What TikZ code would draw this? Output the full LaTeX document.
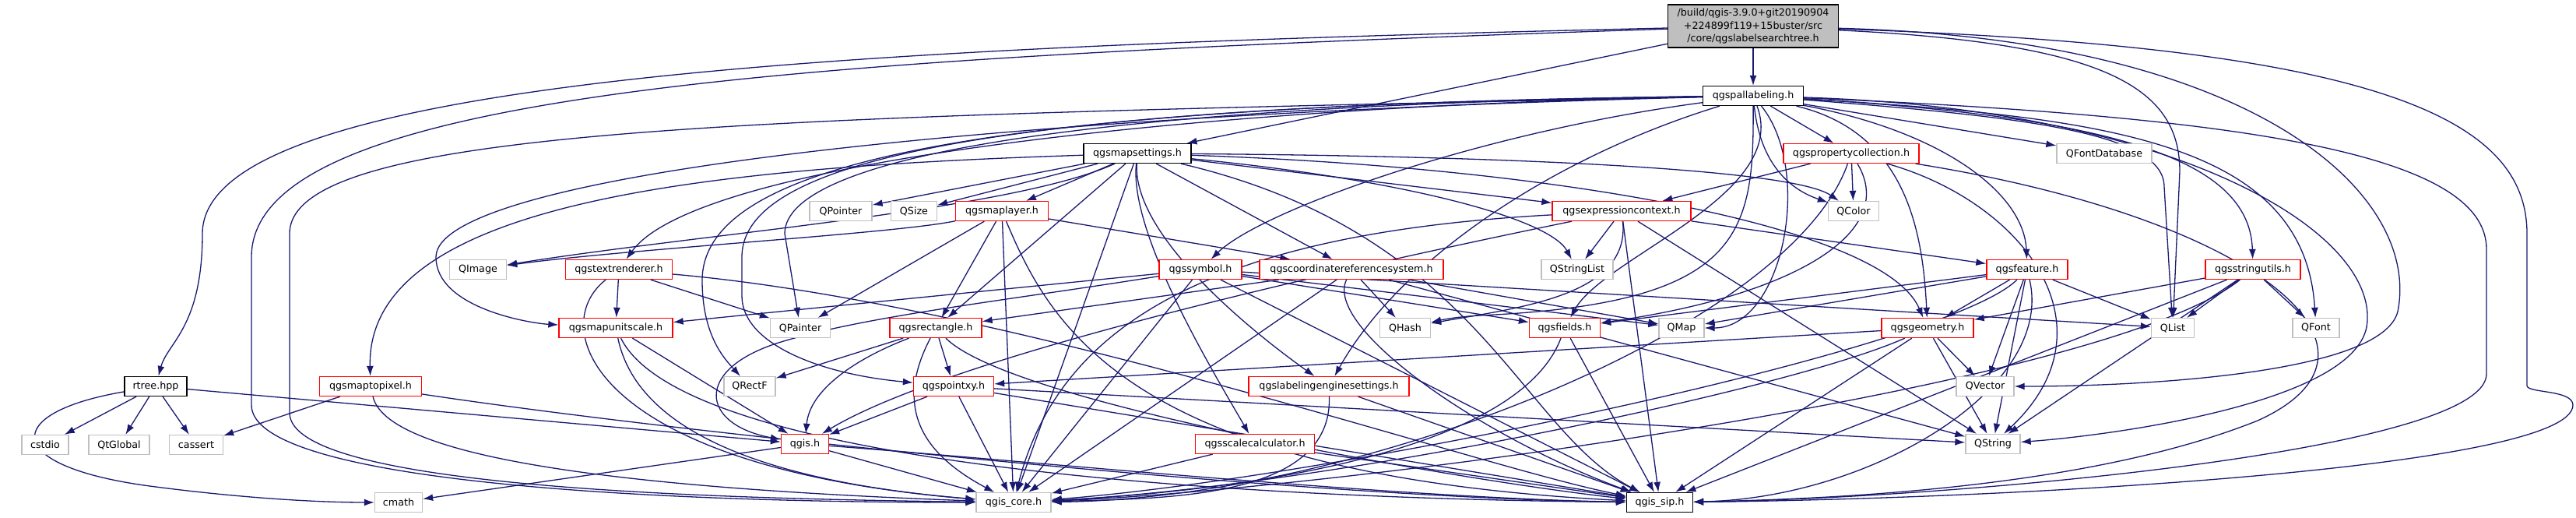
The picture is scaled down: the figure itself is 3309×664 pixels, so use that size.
\documentclass[tikz,border=0pt]{standalone}
\usepackage{fontspec}
\setmainfont{DejaVu Sans}
\usetikzlibrary{arrows.meta,backgrounds}
\definecolor{edgec}{HTML}{191970}
\definecolor{grayc}{HTML}{BFBFBF}
\definecolor{redc}{HTML}{FF0000}
\newcommand{\nf}{\fontsize{12.7}{16.5}\selectfont}
\tikzset{
  nd/.style={rectangle, inner sep=0pt, minimum height=25pt, font=\nf, line width=1.3pt, fill=white},
  bk/.style={nd, draw=black},
  rd/.style={nd, draw=redc},
  gy/.style={nd, draw=grayc},
  dep/.style={draw=edgec, line width=1.3pt, -{Latex[length=13pt,width=9pt]}}
}
\begin{document}
\begin{tikzpicture}[x=1pt,y=-1pt]
\useasboundingbox (0,0) rectangle (3309,664);
% row 0/1
\node[bk, fill=grayc, minimum width=219pt, minimum height=55pt, align=center] (top) at (2252,33.5) {/build/qgis-3.9.0+git20190904\\+224899f119+15buster/src\\/core/qgslabelsearchtree.h};
\node[bk, minimum width=129pt] (pal) at (2252,123) {qgspallabeling.h};
% row 2
\node[bk, minimum width=138pt] (ms) at (1461,197) {qgsmapsettings.h};
\node[rd, minimum width=174pt] (pc) at (2378,197) {qgspropertycollection.h};
\node[gy, minimum width=122pt] (qfd) at (2703,197) {QFontDatabase};
% row 3
\node[gy, minimum width=80pt] (qptr) at (1080,271) {QPointer};
\node[gy, minimum width=59pt] (qsize) at (1174,271) {QSize};
\node[rd, minimum width=119pt] (ml) at (1287,271) {qgsmaplayer.h};
\node[rd, minimum width=178pt] (ec) at (2083,271) {qgsexpressioncontext.h};
\node[gy, minimum width=65pt] (qcolor) at (2381,271) {QColor};
% row 4
\node[gy, minimum width=73pt] (qimage) at (614,346) {QImage};
\node[rd, minimum width=137pt] (tr) at (795,346) {qgstextrenderer.h};
\node[rd, minimum width=106pt] (sym) at (1542,346) {qgssymbol.h};
\node[rd, minimum width=236pt] (crs) at (1736,346) {qgscoordinatereferencesystem.h};
\node[gy, minimum width=92pt] (qsl) at (2026,346) {QStringList};
\node[rd, minimum width=104pt] (fe) at (2604,346) {qgsfeature.h};
\node[rd, minimum width=122pt] (su) at (2894,346) {qgsstringutils.h};
% row 5
\node[rd, minimum width=146pt] (mus) at (791,421) {qgsmapunitscale.h};
\node[gy, minimum width=77pt] (qpainter) at (1028,421) {QPainter};
\node[rd, minimum width=118pt] (rect) at (1202,421) {qgsrectangle.h};
\node[gy, minimum width=65pt] (qhash) at (1805,421) {QHash};
\node[rd, minimum width=91pt] (fld) at (2010,421) {qgsfields.h};
\node[gy, minimum width=58pt] (qmap) at (2160,421) {QMap};
\node[rd, minimum width=118pt] (geo) at (2476,421) {qgsgeometry.h};
\node[gy, minimum width=55pt] (qlist) at (2791,421) {QList};
\node[gy, minimum width=60pt] (qfont) at (2975,421) {QFont};
% row 6
\node[bk, minimum width=80pt] (rtree) at (200,496) {rtree.hpp};
\node[rd, minimum width=131pt] (mtp) at (476,496) {qgsmaptopixel.h};
\node[gy, minimum width=66pt] (qrectf) at (963,496) {QRectF};
\node[rd, minimum width=103pt] (pxy) at (1225,496) {qgspointxy.h};
\node[rd, minimum width=206pt] (les) at (1707,496) {qgslabelingenginesettings.h};
\node[gy, minimum width=74pt] (qvector) at (2550,496) {QVector};
% row 7
\node[gy, minimum width=60pt] (cstdio) at (58,571) {cstdio};
\node[gy, minimum width=78pt] (qtglobal) at (153,571) {QtGlobal};
\node[gy, minimum width=69pt] (cassert) at (252,571) {cassert};
\node[rd, minimum width=61pt] (qgis) at (1034,570) {qgis.h};
\node[rd, minimum width=153pt] (scal) at (1612,570) {qgsscalecalculator.h};
\node[gy, minimum width=70pt] (qstring) at (2560,570) {QString};
% row 8
\node[gy, minimum width=61pt] (cmath) at (512,645) {cmath};
\node[gy, minimum width=96pt] (core) at (1302,645) {qgis\_core.h};
\node[bk, minimum width=85pt] (sip) at (2132,645) {qgis\_sip.h};

\begin{scope}[on background layer]
% top
\draw[dep] (top) -- (pal);
\draw[dep] (top) .. controls (1100,60) and (260,100) .. (260,300) .. controls (260,420) and (215,440) .. (rtree);
\draw[dep] (top) .. controls (1000,75) and (323,120) .. (323,330) -- (323,520) .. controls (323,615) and (800,645) .. (core);
\draw[dep] (top) -- (ms);
\draw[dep] (top) .. controls (2700,55) and (2800,110) .. (2800,220) -- (qlist);
\draw[dep] (top) .. controls (2900,50) and (3110,250) .. (3080,400) .. controls (3060,480) and (2750,496) .. (qvector);
\draw[dep] (top) .. controls (3050,60) and (3246,150) .. (3246,300) -- (3246,495) .. controls (3246,505) and (3305,500) .. (3305,520) .. controls (3305,600) and (2600,640) .. (sip);
% pal
\draw[dep] (pal) -- (pc);
\draw[dep] (pal) -- (qfd);
\draw[dep] (pal) .. controls (2260,200) and (2290,240) .. (qcolor);
\draw[dep] (pal) .. controls (2500,170) and (2600,250) .. (fe);
\draw[dep] (pal) .. controls (2450,170) and (2470,300) .. (geo);
\draw[dep] (pal) .. controls (2300,250) and (2060,330) .. (fld);
\draw[dep] (pal) .. controls (2330,220) and (2290,421) .. (qmap);
\draw[dep] (pal) .. controls (2253,300) and (2240,390) .. (1900,405) .. controls (1870,407) and (1855,410) .. (qhash);
\draw[dep] (pal) .. controls (2600,150) and (2780,170) .. (2780,240) -- (qlist);
\draw[dep] (pal) .. controls (2700,150) and (2960,180) .. (qfont);
\draw[dep] (pal) .. controls (2700,150) and (2890,200) .. (su);
\draw[dep] (pal) .. controls (2800,140) and (3060,300) .. (3040,420) .. controls (3020,520) and (2700,560) .. (qstring);
\draw[dep] (pal) .. controls (1000,150) and (372,160) .. (372,300) -- (372,530) .. controls (372,625) and (900,640) .. (core);
\draw[dep] (pal) .. controls (2000,200) and (1800,330) .. (les);
\draw[dep] (pal) .. controls (1900,170) and (1620,270) .. (sym);
\draw[dep] (pal) .. controls (1600,135) and (900,200) .. (tr);
\draw[dep] (pal) .. controls (1200,150) and (560,230) .. (560,330) .. controls (560,395) and (680,415) .. (mus);
\draw[dep] (pal) .. controls (1400,135) and (1008,200) .. (1008,300) -- (qpainter);
\draw[dep] (pal) .. controls (1300,135) and (902,200) .. (902,360) .. controls (902,430) and (930,460) .. (qrectf);
\draw[dep] (pal) .. controls (1300,135) and (953,200) .. (953,330) -- (953,380) .. controls (953,440) and (1050,480) .. (pxy);
\draw[dep] (pal) .. controls (2900,150) and (3194,200) .. (3194,320) -- (3194,480) .. controls (3194,580) and (2500,640) .. (sip);
% ms
\draw[dep] (ms) -- (qptr);
\draw[dep] (ms) -- (qsize);
\draw[dep] (ms) -- (ml);
\draw[dep] (ms) .. controls (1300,270) and (900,300) .. (qimage);
\draw[dep] (ms) .. controls (900,215) and (470,260) .. (mtp);
\draw[dep] (ms) -- (rect);
\draw[dep] (ms) .. controls (1450,300) and (1560,480) .. (scal);
\draw[dep] (ms) .. controls (1455,300) and (1600,420) .. (les);
\draw[dep] (ms) -- (crs);
\draw[dep] (ms) -- (ec);
\draw[dep] (ms) .. controls (1800,230) and (1990,280) .. (qsl);
\draw[dep] (ms) .. controls (1900,200) and (2300,215) .. (qcolor);
\draw[dep] (ms) .. controls (2000,215) and (2420,290) .. (geo);
\draw[dep] (ms) -- (core);
\draw[dep] (ms) .. controls (1900,300) and (1950,550) .. (sip);
% ml
\draw[dep] (ml) .. controls (1150,300) and (800,320) .. (qimage);
\draw[dep] (ml) -- (qpainter);
\draw[dep] (ml) -- (rect);
\draw[dep] (ml) -- (crs);
\draw[dep] (ml) .. controls (1350,420) and (1450,610) .. (sip);
\draw[dep] (ml) -- (core);
% tr
\draw[dep] (tr) -- (mus);
\draw[dep] (tr) -- (qpainter);
\draw[dep] (tr) .. controls (700,420) and (760,600) .. (core);
\draw[dep] (tr) .. controls (1300,390) and (1900,600) .. (sip);
% mus
\draw[dep] (mus) -- (qgis);
\draw[dep] (mus) .. controls (820,560) and (1000,620) .. (core);
\draw[dep] (mus) .. controls (880,600) and (1600,640) .. (sip);
% mtp
\draw[dep] (mtp) -- (cassert);
\draw[dep] (mtp) .. controls (500,600) and (900,630) .. (core);
\draw[dep] (mtp) .. controls (900,560) and (1700,640) .. (sip);
% rtree
\draw[dep] (rtree) -- (cstdio);
\draw[dep] (rtree) -- (qtglobal);
\draw[dep] (rtree) -- (cassert);
\draw[dep] (rtree) .. controls (0,530) and (0,600) .. (200,625) .. controls (300,638) and (400,645) .. (cmath);
\draw[dep] (rtree) -- (qgis);
% qgis
\draw[dep] (qgis) -- (cmath);
\draw[dep] (qgis) -- (core);
\draw[dep] (qgis) .. controls (1300,590) and (1800,640) .. (sip);
% sym
\draw[dep] (sym) -- (mus);
\draw[dep] (sym) -- (core);
\draw[dep] (sym) .. controls (1300,385) and (1113,405) .. (1000,440) .. controls (890,475) and (900,545) .. (qgis);
\draw[dep] (sym) -- (fld);
\draw[dep] (sym) -- (qmap);
\draw[dep] (sym) -- (qlist);
\draw[dep] (sym) -- (sip);
% crs
\draw[dep] (crs) -- (rect);
\draw[dep] (crs) -- (qhash);
\draw[dep] (crs) -- (qmap);
\draw[dep] (crs) -- (qstring);
\draw[dep] (crs) -- (core);
\draw[dep] (crs) .. controls (1700,420) and (1900,560) .. (sip);
% ec
\draw[dep] (ec) -- (qsl);
\draw[dep] (ec) -- (fe);
\draw[dep] (ec) .. controls (1550,300) and (1360,420) .. (core);
\draw[dep] (ec) .. controls (1600,370) and (1200,470) .. (qgis);
\draw[dep] (ec) .. controls (2095,380) and (1950,395) .. (qhash);
\draw[dep] (ec) -- (qstring);
\draw[dep] (ec) -- (sip);
% pc
\draw[dep] (pc) -- (ec);
\draw[dep] (pc) -- (qcolor);
\draw[dep] (pc) .. controls (2440,300) and (2300,380) .. (fld);
\draw[dep] (pc) .. controls (2600,260) and (2720,420) .. (qstring);
\draw[dep] (pc) .. controls (2900,280) and (3100,450) .. (2900,540) .. controls (2700,620) and (2400,640) .. (sip);
\draw[dep] (pc) .. controls (2300,420) and (1750,640) .. (core);
% fe
\draw[dep] (fe) -- (fld);
\draw[dep] (fe) -- (qmap);
\draw[dep] (fe) -- (geo);
\draw[dep] (fe) -- (qlist);
\draw[dep] (fe) -- (qvector);
\draw[dep] (fe) -- (qstring);
\draw[dep] (fe) .. controls (2500,450) and (1700,615) .. (core);
\draw[dep] (fe) .. controls (2640,500) and (2400,640) .. (sip);
% geo
\draw[dep] (geo) -- (pxy);
\draw[dep] (geo) -- (qvector);
\draw[dep] (geo) -- (qstring);
\draw[dep] (geo) .. controls (2300,500) and (1700,625) .. (core);
\draw[dep] (geo) -- (sip);
% fld
\draw[dep] (fld) .. controls (1950,580) and (1600,630) .. (core);
\draw[dep] (fld) -- (sip);
% pxy
\draw[dep] (pxy) -- (qgis);
\draw[dep] (pxy) -- (qstring);
\draw[dep] (pxy) -- (core);
\draw[dep] (pxy) -- (sip);
% rect
\draw[dep] (rect) -- (pxy);
\draw[dep] (rect) -- (qrectf);
\draw[dep] (rect) .. controls (1100,460) and (1040,500) .. (qgis);
\draw[dep] (rect) .. controls (1150,520) and (1180,580) .. (core);
\draw[dep] (rect) .. controls (1300,520) and (1900,620) .. (sip);
% les
\draw[dep] (les) .. controls (1712,640) and (1500,640) .. (core);
\draw[dep] (les) -- (sip);
% scal
\draw[dep] (scal) -- (core);
\draw[dep] (scal) -- (sip);
% su
\draw[dep] (su) -- (qlist);
\draw[dep] (su) -- (qfont);
\draw[dep] (su) -- (qstring);
\draw[dep] (su) .. controls (2700,500) and (1700,630) .. (core);
\draw[dep] (su) -- (sip);
\draw[dep] (su) -- (geo);
\end{scope}
\end{tikzpicture}
\end{document}
